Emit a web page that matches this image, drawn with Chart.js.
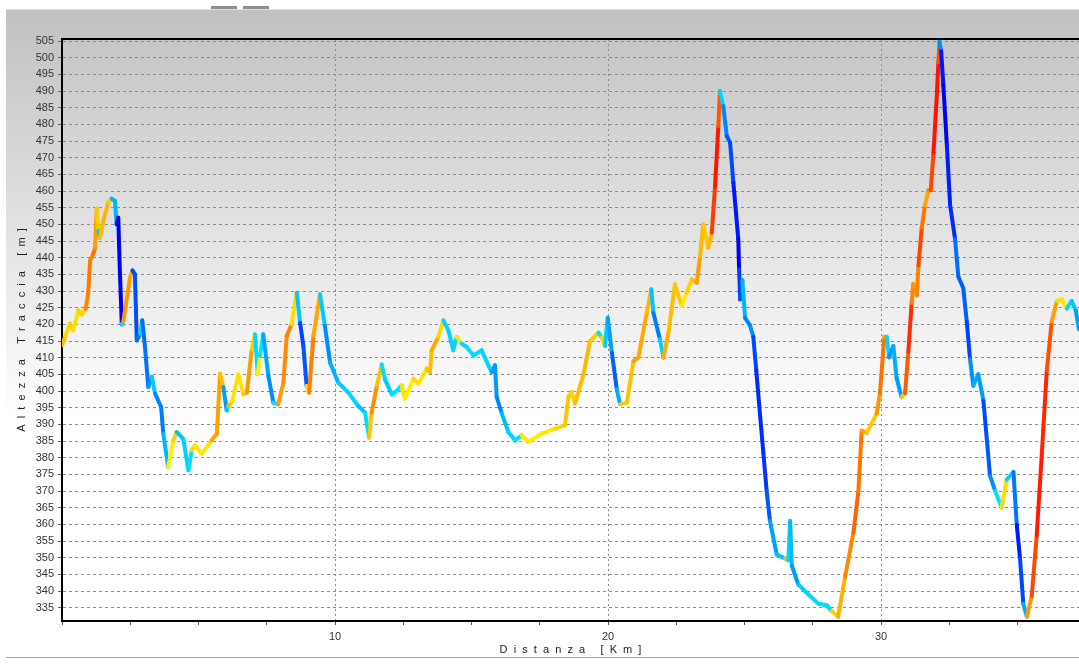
<!DOCTYPE html>
<html>
<head>
<meta charset="utf-8">
<title>Altezza Traccia</title>
<script src="https://cdn.jsdelivr.net/npm/chart.js@4.4.1/dist/chart.umd.min.js"></script>
<style>
  html, body { margin: 0; padding: 0; background: #fff; }
  canvas { display: block; }
</style>
</head>
<body>
<canvas id="profileChart" width="1079" height="664"></canvas>
<script>
// profilo altimetrico: distanza [km] / altezza [m]
const distanceKm = [
  0, 0.11, 0.29, 0.41, 0.6, 0.72, 0.87, 0.96, 1.03, 1.15, 1.21, 1.27, 1.33, 1.39, 1.51, 1.7, 1.82, 1.94, 2.0, 2.06,
  2.12, 2.19, 2.25, 2.49, 2.58, 2.67, 2.74, 2.86, 2.94, 3.04, 3.16, 3.29, 3.41, 3.63, 3.71, 3.89, 4.08, 4.2, 4.44, 4.63,
  4.75, 4.87, 5.12, 5.48, 5.67, 5.79, 5.91, 6.03,
  6.09, 6.22, 6.46, 6.64, 6.77, 6.95, 7.07, 7.17, 7.25, 7.37, 7.56, 7.74, 7.92, 8.11, 8.23, 8.41, 8.6, 8.72, 8.84, 8.96,
  9.05, 9.21, 9.45, 9.63, 9.82, 10.12, 10.49, 10.85, 11.1, 11.25, 11.34, 11.53, 11.71, 11.83, 12.08, 12.32,
  12.44, 12.56, 12.87, 13.05, 13.36, 13.48, 13.54, 13.78, 13.97, 14.15, 14.33, 14.46, 14.64, 14.82, 15.07, 15.37, 15.62, 15.74, 15.86, 15.92,
  16.11, 16.35, 16.59, 16.84, 17.08, 17.57, 18.06, 18.42, 18.55, 18.67, 18.79,
  19.1, 19.34, 19.65, 19.77, 19.89, 19.99, 20.14, 20.32, 20.44, 20.69, 20.93, 21.11, 21.42, 21.58, 21.66, 21.9, 22.03, 22.21, 22.45, 22.7,
  22.88, 23.07, 23.25, 23.37, 23.49, 23.67, 23.8, 23.92, 24.04, 24.1, 24.22, 24.35, 24.47, 24.59,
  24.77, 24.8, 24.84, 24.92, 25.02, 25.2, 25.32, 25.43, 25.57, 25.69, 25.81, 25.93, 26.18, 26.48, 26.6, 26.67, 26.73, 26.97, 27.34, 27.7,
  28.01, 28.19, 28.43, 28.68, 28.99, 29.17, 29.29, 29.48, 29.84, 29.96, 30.12, 30.21, 30.29, 30.45, 30.57, 30.75,
  30.88, 31.0, 31.12, 31.18, 31.31, 31.37, 31.49, 31.61, 31.73, 31.82, 31.92, 32.04, 32.1, 32.14, 32.2, 32.28, 32.41, 32.53, 32.71, 32.83,
  33.01, 33.14, 33.26, 33.38, 33.56, 33.75, 33.87, 33.99, 34.18, 34.42, 34.6, 34.85, 34.97, 35.09, 35.21, 35.34, 35.52, 35.7, 35.89, 36.07,
  36.25, 36.44, 36.62, 36.8, 36.98, 37.13, 37.25
];
const elevationM = [
  413.7, 416.2, 420.2, 418.2, 424.2, 423, 424.7, 429.2, 439.2, 441.2, 443, 454.7, 448, 446, 451, 456.7, 457.7, 457, 450, 452,
  436, 420, 421, 434, 436.2, 435, 415.2, 417.2, 421.2, 413.2, 401.2, 404.2, 399.2, 395.2, 387.2, 377.2, 385.2, 387.7, 385.7, 376.2,
  382.2, 383.7, 381.2, 385.2, 387.2, 405.2, 401.2, 394.2,
  395.5, 396.5, 405, 399, 399.5, 412.5, 417, 405, 410.5, 417, 404.5, 396.5, 396, 402.5, 416.5, 420, 429.5, 420.5, 413.5, 401.5,
  399.5, 416.5, 429, 419.5, 408.5, 402.5, 399.5, 395.5, 393.5, 386, 393.5, 401.5, 408, 403.5, 399, 400.5,
  401.7, 397.7, 403.7, 402.2, 406.7, 405.7, 412.2, 416.2, 421.2, 418.2, 412.2, 416.2, 414.2, 413.2, 410.7, 412.2, 407.7, 405.7, 407.7, 398.2,
  393.2, 387.7, 385.2, 386.7, 384.7, 387.2, 388.7, 389.7, 398.2, 399.7, 396.2,
  405, 415, 417.5, 416, 413.5, 422, 411.5, 400.5, 396, 396.5, 409, 410, 423.5, 430.5, 423.5, 415.5, 410, 417.5, 432, 425.5,
  429.5, 433.5, 432.5, 440.5, 450, 443, 447.5, 461.5, 479.5, 490, 485.5, 476.5, 474.5, 462.5,
  445.6, 436.6, 427.5, 433.2, 421.9, 419.7, 416.3, 406.1, 392.6, 381.3, 370, 361, 350.9, 349.8, 349.2, 361, 347.6, 341.9, 339, 336.2,
  335.7, 334, 332.3, 344.2, 357.6, 370, 388.1, 387.5, 393.2, 399.4, 416.3, 416.3, 410.1, 413.5, 403.9, 398.2,
  399.4, 411.8, 426.4, 432.1, 428.7, 437.7, 449, 455.7, 460.2, 460.2, 471.5, 488.4, 498.6, 504.8, 502, 491.8, 473.8, 455.7, 445.6, 434.3,
  430.9, 420.8, 409.5, 401.6, 405, 397.1, 385.8, 374.6, 370, 365, 373.4, 375.7, 359.9, 349.8, 336.2, 332.3, 338.5, 356.6, 381.3, 406.1,
  420.8, 427, 427.6, 424.7, 427, 424.2, 418.5
];
const xLabelKm = [10, 20, 30];
const xRange = [0, 37.25];
const yRange = [331, 505.6];

// colore in base alla pendenza (m/km): salita giallo -> rosso, discesa ciano -> blu
const climbStops = [[0, 255, 240, 0], [15, 255, 205, 0], [35, 255, 165, 0], [60, 255, 120, 0], [90, 255, 70, 0], [130, 255, 20, 0]];
const descentStops = [[0, 0, 230, 255], [15, 0, 200, 255], [35, 0, 150, 255], [60, 0, 90, 255], [100, 0, 35, 255], [140, 0, 0, 245]];

function gradeColor(g) {
  const stops = g >= 0 ? climbStops : descentStops;
  const v = Math.abs(g);
  for (let k = 1; k < stops.length; k++) {
    if (v <= stops[k][0]) {
      const a = stops[k - 1], b = stops[k];
      const t = (v - a[0]) / (b[0] - a[0]);
      const c = [1, 2, 3].map(j => Math.round(a[j] + (b[j] - a[j]) * t));
      return 'rgb(' + c.join(',') + ')';
    }
  }
  const last = stops[stops.length - 1];
  return 'rgb(' + last[1] + ',' + last[2] + ',' + last[3] + ')';
}

function gradeAt(i0, i1) {
  const a = Math.max(0, i0 - 1);
  const b = Math.min(distanceKm.length - 1, i1 + 1);
  return (elevationM[b] - elevationM[a]) / (distanceKm[b] - distanceKm[a]);
}

const panel = {
  id: 'panel',
  beforeDraw(chart) {
    const {ctx, width} = chart;
    ctx.save();
    ctx.fillStyle = '#ffffff';
    ctx.fillRect(0, 0, width, chart.height);
    const shade = ctx.createLinearGradient(0, 10, 0, 420);
    shade.addColorStop(0, '#c1c1c1');
    shade.addColorStop(1, '#ffffff');
    ctx.fillStyle = shade;
    ctx.fillRect(6, 10, width - 6, 647);
    ctx.fillStyle = '#e3dfd0';
    ctx.fillRect(6, 9, width - 6, 1);
    ctx.fillStyle = '#aca899';
    ctx.fillRect(6, 657, width - 6, 1);
    ctx.fillStyle = '#8e8e8e';
    ctx.fillRect(211, 6, 26, 3);
    ctx.fillRect(243, 6, 26, 3);
    ctx.restore();
  },
  afterDraw(chart) {
    const {ctx, chartArea} = chart;
    ctx.save();
    ctx.fillStyle = '#000';
    ctx.fillRect(chartArea.left - 1, chartArea.top - 1, chartArea.right - chartArea.left + 1, 2);
    ctx.restore();
  }
};

const font = {family: "'Liberation Sans', Arial, sans-serif", size: 11};

const ctx = document.getElementById('profileChart').getContext('2d');
const profileChart = new Chart(ctx, {
  type: 'line',
  data: {
    datasets: [{
      data: distanceKm.map((d, i) => ({x: d, y: elevationM[i]})),
      borderWidth: 4,
      borderColor: '#00e0ff',
      borderCapStyle: 'round',
      borderJoinStyle: 'round',
      pointRadius: 0,
      tension: 0,
      segment: {
        borderColor: c => gradeColor(gradeAt(c.p0DataIndex, c.p1DataIndex))
      }
    }]
  },
  options: {
    responsive: false,
    animation: false,
    layout: {padding: {top: 39, left: 0, right: 0, bottom: 0}},
    plugins: {legend: {display: false}, tooltip: {enabled: false}},
    scales: {
      x: {
        type: 'linear',
        min: xRange[0],
        max: xRange[1],
        afterFit(scale) { scale.height = 43; },
        ticks: {
          stepSize: 2.5,
          includeBounds: false,
          autoSkip: false,
          maxRotation: 0,
          color: '#333',
          font: font,
          padding: 5,
          callback: v => xLabelKm.includes(v) ? String(v) : ''
        },
        grid: {
          color: c => (c.tick && xLabelKm.includes(c.tick.value)) ? '#8c8c8c' : 'rgba(0,0,0,0)',
          tickColor: '#555',
          tickLength: 4
        },
        border: {color: '#000', width: 2, dash: [2, 3]},
        title: {
          display: true,
          text: 'D  i  s  t  a  n  z  a     [  K  m  ]',
          color: '#222',
          font: font,
          padding: {top: 0, bottom: 7}
        }
      },
      y: {
        min: yRange[0],
        max: yRange[1],
        afterFit(scale) { scale.width = 62; },
        ticks: {
          stepSize: 5,
          includeBounds: false,
          autoSkip: false,
          color: '#333',
          font: font,
          padding: 4
        },
        grid: {color: '#8c8c8c', tickColor: '#666', tickLength: 4},
        border: {color: '#000', width: 2, dash: [3, 3]},
        title: {
          display: true,
          text: 'A  l  t  e  z  z  a     T  r  a  c  c  i  a     [  m  ]',
          color: '#222',
          font: font,
          padding: {top: 15, bottom: 0}
        }
      }
    }
  },
  plugins: [panel]
});
</script>
</body>
</html>
